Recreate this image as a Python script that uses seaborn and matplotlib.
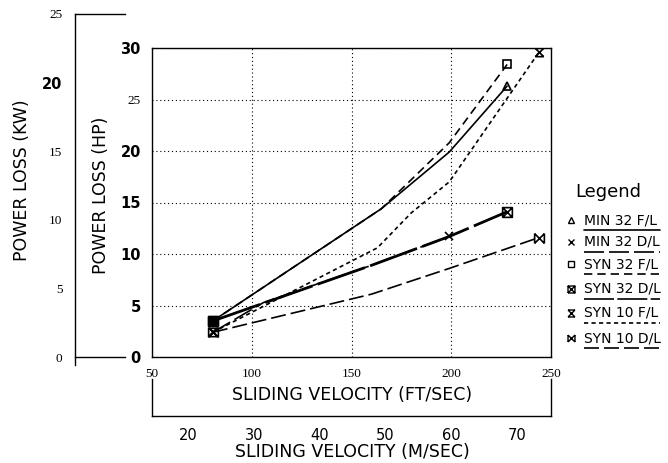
import numpy as np
import pandas as pd
import matplotlib
matplotlib.use("Agg")
import matplotlib.pyplot as plt
from matplotlib.path import Path
from matplotlib.lines import Line2D
import seaborn as sns

# ---------------- data ----------------
min32_fl_v = [80.5, 120, 165, 199, 228]
min32_fl_hp = [3.5, 8.6, 14.4, 19.9, 26.3]

min32_dl_v = [80.5, 106, 160, 199]
min32_dl_hp = [2.4, 5.3, 8.9, 11.7]

syn32_fl_v = [80.5, 120, 165, 199, 228]
syn32_fl_hp = [3.5, 8.6, 14.4, 20.8, 28.4]

syn32_dl_v = [80.5, 160, 199, 228]
syn32_dl_hp = [3.5, 8.9, 11.7, 14.1]

syn10_fl_v = [80.5, 163, 180, 199, 244]
syn10_fl_hp = [2.4, 10.6, 14.0, 17.0, 29.6]

syn10_dl_v = [80.5, 160, 199, 244]
syn10_dl_hp = [2.4, 6.1, 8.6, 11.6]

series_names = ["MIN 32 F/L", "MIN 32 D/L", "SYN 32 F/L",
                "SYN 32 D/L", "SYN 10 F/L", "SYN 10 D/L"]

hp_ticks = [0, 5, 10, 15, 20, 25, 30]
kw_ticks = [0, 5, 10, 15, 20, 25]
ft_ticks = [50, 100, 150, 200, 250]
ms_ticks = [20, 30, 40, 50, 60, 70]

# ---------------- styles ----------------
sns.set_style("white")
plt.rcParams["font.family"] = ["DejaVu Sans"]
for k in ["text.color", "axes.labelcolor", "xtick.color", "ytick.color", "axes.edgecolor"]:
    plt.rcParams[k] = "black"

def mk(verts, codes):
    return Path(np.array(verts, float), codes)

M, L = Path.MOVETO, Path.LINETO
boxx = mk([(-1, -1), (1, -1), (1, 1), (-1, 1), (-1, -1), (-1, -1), (1, 1), (-1, 1), (1, -1)],
          [M, L, L, L, L, M, L, M, L])
ibeam = mk([(-1, 1), (1, 1), (-1, -1), (1, -1), (-1, 1), (1, -1), (1, 1), (-1, -1)],
           [M, L, M, L, M, L, M, L])
bowtie = mk([(-1, -1), (-1, 1), (1, -1), (1, 1), (-1, 1), (1, -1), (-1, -1), (1, 1)],
            [M, L, M, L, M, L, M, L])

styles = {
    "MIN 32 F/L": dict(ls="-", lw=1.2, marker="^", ms=6),
    "MIN 32 D/L": dict(ls=(0, (12, 3)), lw=1.2, marker="x", ms=6),
    "SYN 32 F/L": dict(ls=(0, (5, 3)), lw=1.2, marker="s", ms=6),
    "SYN 32 D/L": dict(ls=(0, (18, 2)), lw=2.0, marker=boxx, ms=7),
    "SYN 10 F/L": dict(ls=(0, (2.5, 2)), lw=1.2, marker=ibeam, ms=6),
    "SYN 10 D/L": dict(ls=(0, (9, 3)), lw=1.2, marker=bowtie, ms=7),
}
data = {
    "MIN 32 F/L": (min32_fl_v, min32_fl_hp),
    "MIN 32 D/L": (min32_dl_v, min32_dl_hp),
    "SYN 32 F/L": (syn32_fl_v, syn32_fl_hp),
    "SYN 32 D/L": (syn32_dl_v, syn32_dl_hp),
    "SYN 10 F/L": (syn10_fl_v, syn10_fl_hp),
    "SYN 10 D/L": (syn10_dl_v, syn10_dl_hp),
}

W, H = 668, 463
fig = plt.figure(figsize=(W / 100, H / 100), dpi=100)

def fx(px):
    return px / W

def fy(py):
    return 1 - py / H

serif = ["Liberation Serif", "DejaVu Serif"]

# ---------------- main axes ----------------
ax = fig.add_axes([fx(152), fy(357), fx(551) - fx(152), fy(48) - fy(357)])
for name in series_names:
    v, hp = data[name]
    df = pd.DataFrame({"v": v, "hp": hp})
    st = styles[name]
    sns.lineplot(data=df, x="v", y="hp", ax=ax, color="black", sort=False,
                 errorbar=None, linestyle=st["ls"], linewidth=st["lw"],
                 marker=st["marker"], markersize=st["ms"], markevery=[0, len(v) - 1],
                 markerfacecolor="none", markeredgecolor="black", markeredgewidth=1.2)
# the overlapping start markers print as a solid blob in the original
ax.plot([syn32_dl_v[0]], [syn32_dl_hp[0]], marker="s", ms=6.5, color="black", linestyle="none")
ax.set_xlim(50, 250)
ax.set_ylim(0, 30)
ax.set_xticks(ft_ticks)
ax.set_yticks(hp_ticks)
ax.grid(True, linestyle=(0, (1, 2.5)), color="black", linewidth=0.8)
for s in ax.spines.values():
    s.set_color("black")
    s.set_linewidth(1.0)
ax.tick_params(axis="both", direction="out", length=5, width=1, color="black")
ax.tick_params(axis="x", pad=3)
ax.tick_params(axis="y", pad=3)
ax.set_xticklabels([str(t) for t in ft_ticks], fontfamily=serif, fontsize=9.5)
ylabels = ax.set_yticklabels([str(t) for t in hp_ticks])
for t, lab in zip(hp_ticks, ylabels):
    if t == 25:
        lab.set_fontfamily(serif)
        lab.set_fontsize(9.5)
    else:
        lab.set_fontsize(10.5)
        lab.set_fontweight("bold")
ax.set_xlabel("")
ax.set_ylabel("")

fig.text(fx(352), fy(395), "SLIDING VELOCITY (FT/SEC)", ha="center", va="center", fontsize=12.5)
fig.text(fx(101), fy(195), "POWER LOSS (HP)", ha="center", va="center", rotation=90, fontsize=12.5)

# ---------------- kW axis ----------------
axk = fig.add_axes([fx(75), fy(357), fx(125) - fx(75), fy(14) - fy(357)])
axk.set_facecolor("none")
axk.set_ylim(0, 25)
axk.set_xlim(0, 1)
axk.set_yticks(kw_ticks)
axk.set_xticks([])
axk.spines["right"].set_visible(False)
for s in axk.spines.values():
    s.set_color("black")
    s.set_linewidth(1.0)
axk.spines["left"].set_bounds(-0.6, 25)
axk.tick_params(axis="y", direction="out", length=6, width=1, pad=3)
klabels = axk.set_yticklabels([str(t) for t in kw_ticks])
for t, lab in zip(kw_ticks, klabels):
    if t == 20:
        lab.set_fontsize(10.5)
        lab.set_fontweight("bold")
    else:
        lab.set_fontfamily(serif)
        lab.set_fontsize(9.5)
fig.text(fx(22), fy(180), "POWER LOSS (KW)", ha="center", va="center", rotation=90, fontsize=12.5)

# ---------------- m/s axis ----------------
axm = fig.add_axes([fx(152), fy(416), fx(551) - fx(152), fy(379) - fy(416)])
axm.set_facecolor("none")
axm.set_xlim(14.53, 75.17)
axm.set_ylim(0, 1)
axm.set_yticks([])
axm.set_xticks(ms_ticks)
axm.spines["top"].set_visible(False)
for s in axm.spines.values():
    s.set_color("black")
    s.set_linewidth(1.0)
axm.tick_params(axis="x", direction="out", length=5, width=1, pad=4)
axm.set_xticklabels([str(t) for t in ms_ticks], fontsize=10.5)
fig.text(fx(352), fy(452), "SLIDING VELOCITY (M/SEC)", ha="center", va="center", fontsize=12.5)

# ---------------- legend (drawn by hand) ----------------
fig.text(fx(575), fy(192), "Legend", ha="left", va="center", fontsize=13)
rows_y = [220, 242, 264, 289, 313, 338]
for name, ry in zip(series_names, rows_y):
    st = styles[name]
    fig.add_artist(Line2D([fx(571)], [fy(ry)], marker=st["marker"], markersize=5,
                          markerfacecolor="none", markeredgecolor="black",
                          markeredgewidth=1.0, linestyle="none"))
    fig.text(fx(584), fy(ry), name, ha="left", va="center", fontsize=10)
    fig.add_artist(Line2D([fx(584), fx(660)], [fy(ry + 10), fy(ry + 10)],
                          color="black", linestyle=st["ls"], linewidth=1.2))

fig.savefig("out.png", dpi=100)
